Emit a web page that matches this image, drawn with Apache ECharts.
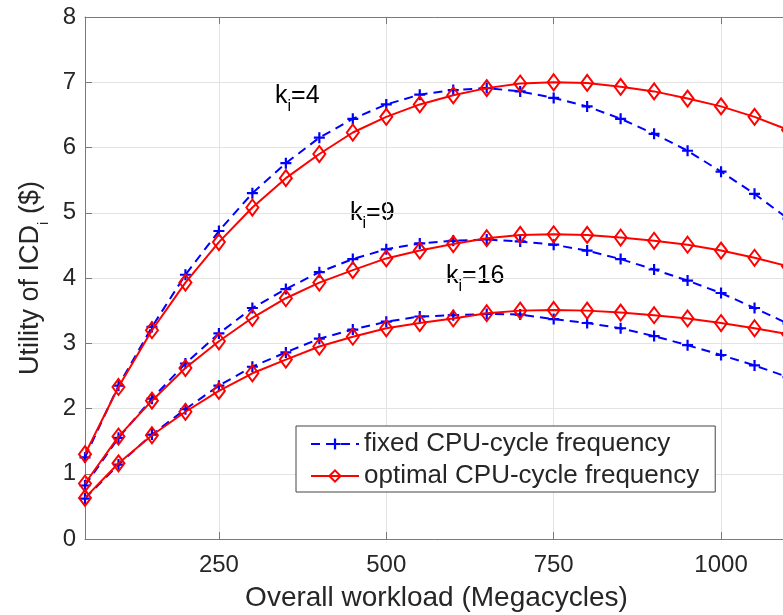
<!DOCTYPE html>
<html>
<head>
<meta charset="utf-8">
<style>
  html, body { margin: 0; padding: 0; background: #fff; }
  #chart { width: 783px; height: 615px; }
</style>
<script src="https://cdn.jsdelivr.net/npm/echarts@6/dist/echarts.min.js"></script>
</head>
<body>
<div id="chart"></div>
<script>
// Overall workload (Megacycles)
const workload = [50, 100, 150, 200, 250, 300, 350, 400, 450, 500, 550,
                  600, 650, 700, 750, 800, 850, 900, 950, 1000, 1050, 1100];

// Utility with a fixed CPU-cycle frequency
const fixedK4  = [1.25, 2.35, 3.25, 4.05, 4.72, 5.30, 5.76, 6.15, 6.44, 6.66, 6.81,
                  6.88, 6.91, 6.86, 6.76, 6.63, 6.44, 6.21, 5.95, 5.63, 5.29, 4.91];
const fixedK9  = [0.82, 1.55, 2.15, 2.69, 3.15, 3.54, 3.83, 4.09, 4.29, 4.44, 4.53,
                  4.57, 4.59, 4.56, 4.51, 4.42, 4.29, 4.13, 3.96, 3.77, 3.54, 3.30];
const fixedK16 = [0.62, 1.14, 1.60, 1.99, 2.35, 2.64, 2.86, 3.07, 3.21, 3.33, 3.41,
                  3.43, 3.45, 3.44, 3.37, 3.31, 3.23, 3.11, 2.97, 2.82, 2.66, 2.48];

// Utility with the optimal CPU-cycle frequency
const optK4  = [1.30, 2.33, 3.20, 3.93, 4.55, 5.08, 5.53, 5.90, 6.23, 6.47, 6.66,
                6.80, 6.91, 6.98, 7.00, 6.99, 6.93, 6.86, 6.75, 6.63, 6.47, 6.27];
const optK9  = [0.85, 1.57, 2.12, 2.62, 3.03, 3.39, 3.69, 3.93, 4.12, 4.30, 4.42,
                4.52, 4.61, 4.66, 4.67, 4.66, 4.62, 4.57, 4.51, 4.42, 4.31, 4.18];
const optK16 = [0.63, 1.16, 1.59, 1.95, 2.27, 2.54, 2.75, 2.95, 3.10, 3.23, 3.31,
                3.38, 3.46, 3.50, 3.51, 3.50, 3.47, 3.43, 3.38, 3.31, 3.23, 3.14];

const xTicks = [250, 500, 750, 1000];
const yTicks = [0, 1, 2, 3, 4, 5, 6, 7, 8];

const FIXED = 'fixed CPU-cycle frequency';
const OPTIMAL = 'optimal CPU-cycle frequency';

const FONT = '"Liberation Sans", Arial, Helvetica, sans-serif';
const TEXT = '#262626';
const AXIS = '#7a7a7a';
const GRID = '#e3e3e3';

const PLUS = 'path://M4,0H6V4H10V6H6V10H4V6H0V4H4Z';

function pairs(ys) {
  return workload.map((x, i) => [x, ys[i]]);
}

function fixedSeries(ys) {
  return {
    name: FIXED,
    type: 'line',
    data: pairs(ys),
    symbol: PLUS,
    symbolSize: 11,
    itemStyle: { color: '#0000ff', borderWidth: 0 },
    lineStyle: { color: '#0000ff', width: 2, type: [9, 6] },
    z: 2
  };
}

function optimalSeries(ys) {
  return {
    name: OPTIMAL,
    type: 'line',
    data: pairs(ys),
    symbol: 'diamond',
    symbolSize: [12, 16],
    itemStyle: { color: 'rgba(255,255,255,0)', borderColor: '#ff0000', borderWidth: 2 },
    lineStyle: { color: '#ff0000', width: 2 },
    z: 3
  };
}

// k with a lowered subscript i
const subRich = {
  m: { fontSize: 25, fontFamily: FONT, color: TEXT, lineHeight: 26, verticalAlign: 'top' },
  s: { fontSize: 16, fontFamily: FONT, color: TEXT, lineHeight: 16, padding: [15, 0, 0, 0], verticalAlign: 'top' }
};

function kLabel(idx, left, top) {
  return {
    type: 'text',
    left: left,
    top: top,
    style: {
      text: '{m|k}{s|i}{m|=' + idx + '}',
      rich: subRich
    }
  };
}

const chart = echarts.init(document.getElementById('chart'), null, { renderer: 'canvas' });

chart.setOption({
  animation: false,
  backgroundColor: '#ffffff',
  textStyle: { fontFamily: FONT, color: TEXT },
  grid: { left: 85, top: 17, right: -5, bottom: 76, outerBoundsMode: 'none', containLabel: false },
  xAxis: [
    {
      type: 'value',
      min: 50,
      max: 1100,
      position: 'bottom',
      name: 'Overall workload (Megacycles)',
      nameLocation: 'middle',
      nameGap: 45,
      nameTextStyle: { fontSize: 28, color: TEXT, fontFamily: FONT },
      axisLine: { show: true, lineStyle: { color: AXIS, width: 1 } },
      axisTick: { show: true, inside: true, length: 7, customValues: xTicks, lineStyle: { color: AXIS } },
      axisLabel: {
        customValues: xTicks,
        formatter: (v) => String(v),
        fontSize: 24, color: TEXT, margin: 14, fontFamily: FONT
      },
      splitLine: { show: true, lineStyle: { color: GRID, width: 1 } }
    },
    {
      type: 'value',
      min: 50,
      max: 1100,
      position: 'top',
      axisLine: { show: true, lineStyle: { color: AXIS, width: 1 } },
      axisTick: { show: true, inside: true, length: 7, customValues: xTicks, lineStyle: { color: AXIS } },
      axisLabel: { show: false },
      splitLine: { show: false }
    }
  ],
  yAxis: {
    type: 'value',
    min: 0,
    max: 8,
    interval: 1,
    name: '{m|Utility of ICD}{s|i}{m| ($)}',
    nameLocation: 'middle',
    nameGap: 34,
    nameTextStyle: {
      rich: {
        m: { fontSize: 27, fontFamily: FONT, color: TEXT, lineHeight: 28, verticalAlign: 'top' },
        s: { fontSize: 15, fontFamily: FONT, color: TEXT, lineHeight: 15, padding: [20, 0, 0, 0], verticalAlign: 'top' }
      }
    },
    axisLine: { show: true, lineStyle: { color: AXIS, width: 1 } },
    axisTick: { show: true, inside: true, length: 7, customValues: yTicks, lineStyle: { color: AXIS } },
    axisLabel: { customValues: yTicks, fontSize: 24, color: TEXT, margin: 9, fontFamily: FONT },
    splitLine: { show: true, lineStyle: { color: GRID, width: 1 } }
  },
  legend: {
    data: [FIXED, OPTIMAL],
    orient: 'vertical',
    left: 296,
    top: 426,
    padding: [5, 16, 3, 14],
    itemGap: 6,
    itemWidth: 48,
    itemHeight: 14,
    backgroundColor: '#ffffff',
    borderColor: '#444444',
    borderWidth: 1,
    borderRadius: 0,
    textStyle: { fontSize: 26, color: TEXT, fontFamily: FONT }
  },
  graphic: [
    kLabel(4, 275, 84),
    kLabel(9, 350, 201),
    kLabel(16, 446, 264)
  ],
  series: [
    fixedSeries(fixedK4),
    fixedSeries(fixedK9),
    fixedSeries(fixedK16),
    optimalSeries(optK4),
    optimalSeries(optK9),
    optimalSeries(optK16)
  ]
});
</script>
</body>
</html>
